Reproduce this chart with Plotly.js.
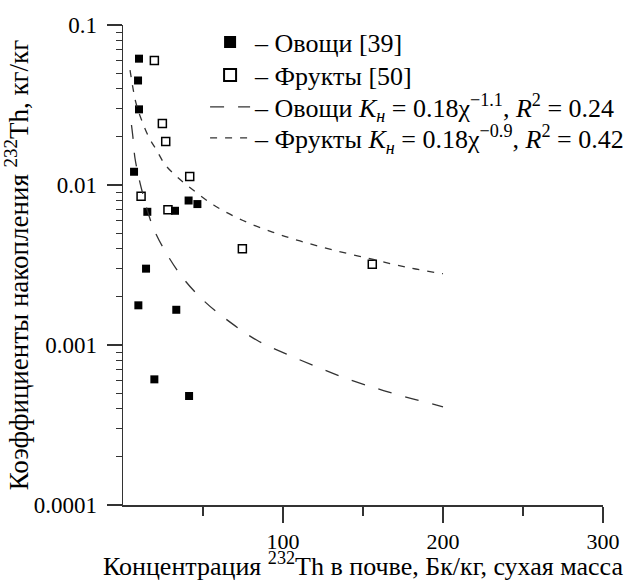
<!DOCTYPE html>
<html>
<head>
<meta charset="utf-8">
<script src="https://cdn.plot.ly/plotly-3.0.1.min.js"></script>
<style>html,body{margin:0;padding:0;background:#fff;}#chart{width:633px;height:581px;}</style>
</head>
<body>
<div id="chart"></div>
<script>
// Vegetables [39] — filled squares
const vegX = [10.0, 9.4, 10.0, 6.9, 15.2, 32.5, 41.0, 46.5, 14.4, 9.6, 33.3, 19.6, 41.3];
const vegY = [0.0616, 0.045, 0.0297, 0.0121, 0.0068, 0.0069, 0.0080, 0.0076, 0.0030, 0.00177, 0.00166, 0.00061, 0.00048];

// Fruits [50] — open squares
const fruitX = [19.6, 24.6, 26.7, 41.7, 11.3, 28.1, 74.6, 155.8];
const fruitY = [0.060, 0.0242, 0.0187, 0.0113, 0.0085, 0.0070, 0.0040, 0.0032];

// Fitted curve, vegetables
const vegFitX = [5.3, 6.3, 7.5, 11.9, 18.75, 26.25, 37.5, 51.25, 66.9, 83.75, 101.9, 120, 138.75, 157.5, 176.9, 200];
const vegFitY = [0.0237, 0.0195, 0.0147, 0.00917, 0.00546, 0.00387, 0.00262, 0.00186, 0.00139, 0.00107, 0.000879, 0.000739, 0.000622, 0.000539, 0.000473, 0.000411];

// Fitted curve, fruits
const fruitFitX = [4.4, 8.1, 11.6, 16.25, 20.9, 26.25, 32.8, 40.3, 56.6, 75, 93.4, 110.6, 131, 155, 179.4, 200];
const fruitFitY = [0.0523, 0.0326, 0.0255, 0.0198, 0.01655, 0.01343, 0.01148, 0.00992, 0.0075, 0.0060, 0.00508, 0.00447, 0.00393, 0.00345, 0.00303, 0.00279];

const legendNames = [
  '– Овощи [39]',
  '– Фрукты [50]',
  '– Овощи <i>K</i><sub><i>н</i></sub> = 0.18χ<sup>−1.1</sup>, <i>R</i><sup>2</sup> = 0.24',
  '– Фрукты <i>K</i><sub><i>н</i></sub> = 0.18χ<sup>−0.9</sup>, <i>R</i><sup>2</sup> = 0.42'
];

const yTickVals = [0.0001, 0.001, 0.01, 0.1];
const yTickText = ['0.0001', '0.001', '0.01', '0.1'];
const xTickVals = [100, 200, 300];
const xTickText = ['100', '200', '300'];
const xMinorVals = [50, 150, 250];

const yMinorVals = [];
[0.0001, 0.001, 0.01].forEach(d => { for (let k = 2; k <= 9; k++) yMinorVals.push(+(d * k).toPrecision(3)); });

const FONT = 'Liberation Serif';
const LINE = '#333';

const traces = [
  {x: vegX, y: vegY, mode: 'markers', type: 'scatter', name: legendNames[0], legend: 'legend',
   marker: {symbol: 'square', size: 8, color: '#000', line: {width: 0}}},
  {x: fruitX, y: fruitY, mode: 'markers', type: 'scatter', name: legendNames[1], legend: 'legend2',
   marker: {symbol: 'square-open', size: 8, color: '#000', line: {width: 1.5}}},
  {x: vegFitX, y: vegFitY, mode: 'lines', type: 'scatter', name: legendNames[2], legend: 'legend3',
   line: {color: LINE, width: 1.3, dash: '14px,14px', shape: 'spline', smoothing: 1}},
  {x: fruitFitX, y: fruitFitY, mode: 'lines', type: 'scatter', name: legendNames[3], legend: 'legend4',
   line: {color: LINE, width: 1.3, dash: '7px,8px', shape: 'spline', smoothing: 1}}
];

function leg(yc, constant) {
  const o = {x: 0.171, y: yc, xanchor: 'left', yanchor: 'middle', bgcolor: 'rgba(0,0,0,0)',
          font: {family: FONT, size: 26, color: '#000'}, itemwidth: 40};
  if (constant) o.itemsizing = 'constant';
  return o;
}

const layout = {
  width: 633, height: 581,
  margin: {l: 123, r: 30, t: 25, b: 76, autoexpand: false},
  paper_bgcolor: '#fff', plot_bgcolor: '#fff',
  font: {family: FONT, size: 22, color: '#000'},
  showlegend: true,
  legend: leg(0.9646, true),
  legend2: leg(0.8958, true),
  legend3: leg(0.8292, false),
  legend4: leg(0.7646, false),
  xaxis: {
    range: [0, 300], showgrid: false, zeroline: false, showline: true, linecolor: '#333', linewidth: 1.5,
    ticks: 'outside', ticklen: 16, tickwidth: 1.5, tickcolor: '#333',
    tickmode: 'array', tickvals: xTickVals, ticktext: xTickText,
    tickfont: {family: FONT, size: 22, color: '#000'},
    minor: {tickmode: 'array', tickvals: xMinorVals, ticks: 'outside', ticklen: 9, tickwidth: 1.5, tickcolor: '#333', showgrid: false},
    title: {text: 'Концентрация <sup>232</sup>Th в почве, Бк/кг, сухая масса', standoff: 6, font: {family: FONT, size: 26, color: '#000'}},
    automargin: false, fixedrange: true
  },
  yaxis: {
    type: 'log', range: [-4, -1], showgrid: false, zeroline: false, showline: true, linecolor: '#333', linewidth: 1.5,
    ticks: 'outside', ticklen: 15, tickwidth: 1.5, tickcolor: '#333',
    tickmode: 'array', tickvals: yTickVals, ticktext: yTickText, ticklabelstandoff: 5,
    tickfont: {family: FONT, size: 23, color: '#000'},
    minor: {tickmode: 'array', tickvals: yMinorVals, ticks: 'outside', ticklen: 6, tickwidth: 1.2, tickcolor: '#333', showgrid: false},
    title: {text: 'Коэффициенты накопления <sup>232</sup>Th, кг/кг', standoff: 0, font: {family: FONT, size: 27, color: '#000'}},
    automargin: false, fixedrange: true
  }
};

Plotly.newPlot('chart', traces, layout, {displayModeBar: false, staticPlot: true});
</script>
</body>
</html>
